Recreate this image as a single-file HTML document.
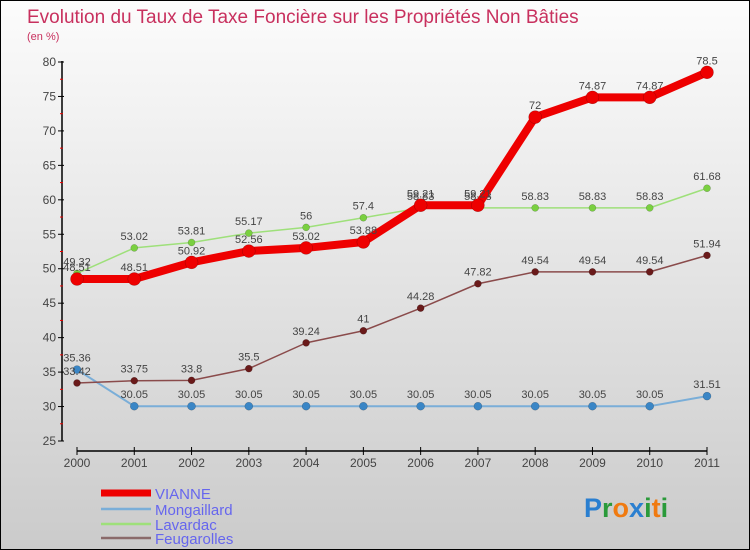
<!DOCTYPE html>
<html><head><meta charset="utf-8"><style>
body{margin:0;}
#c{width:750px;height:550px;position:relative;box-sizing:border-box;border:1px solid #000;background:linear-gradient(#fcfcfc,#cbcbcb);font-family:"Liberation Sans",sans-serif;overflow:hidden}
svg{position:absolute;left:0;top:0}
</style></head><body>
<div id="c">
<svg id="s" width="750" height="550">
<text x="26" y="22" font-size="19" fill="#c8305e">Evolution du Taux de Taxe Foncière sur les Propriétés Non Bâties</text>
<text x="26" y="39" font-size="11" fill="#c8305e">(en %)</text>
<text x="583" y="516" font-size="27" font-weight="bold"><tspan fill="#2a7fd0">P</tspan><tspan fill="#2a9a3a">r</tspan><tspan fill="#f07a10">o</tspan><tspan fill="#2a7fd0">x</tspan><tspan fill="#2a9a3a">i</tspan><tspan fill="#f07a10">t</tspan><tspan fill="#2a9a3a">i</tspan></text>
</svg>
</div>
<script>
const years=[2000,2001,2002,2003,2004,2005,2006,2007,2008,2009,2010,2011];
const vianne=[48.51,48.51,50.92,52.56,53.02,53.88,59.21,59.21,72,74.87,74.87,78.5];
const mongaillard=[35.36,30.05,30.05,30.05,30.05,30.05,30.05,30.05,30.05,30.05,30.05,31.51];
const lavardac=[49.32,53.02,53.81,55.17,56,57.4,58.83,58.83,58.83,58.83,58.83,61.68];
const feugarolles=[33.42,33.75,33.8,35.5,39.24,41,44.28,47.82,49.54,49.54,49.54,51.94];
const yTicks=[25,30,35,40,45,50,55,60,65,70,75,80];
const NS="http://www.w3.org/2000/svg",s=document.getElementById('s');
const X=i=>76+i*(630/11), Y=v=>440-(v-25)*(379/55);
function el(t,a,p){const e=document.createElementNS(NS,t);for(const k in a)e.setAttribute(k,a[k]);(p||s).appendChild(e);return e;}
let e;
e=el('line',{x1:61,y1:60,x2:61,y2:440,stroke:'#000','stroke-width':1.5});


e=el('line',{x1:76,y1:450,x2:706,y2:450,stroke:'#000','stroke-width':1.5});


yTicks.forEach((v,i)=>{
 el('line',{x1:57,y1:Y(v),x2:63,y2:Y(v),stroke:'#000'});
 if(i<yTicks.length-1)el('line',{x1:59,y1:Y(v+2.5),x2:62,y2:Y(v+2.5),stroke:'#e00'});
 e=el('text',{x:55,y:Y(v)+4,'font-size':12,fill:'#444','text-anchor':'end'});e.textContent=v;
 
 
});
years.forEach((y,i)=>{
 el('line',{x1:X(i),y1:446,x2:X(i),y2:454,stroke:'#000'});
 e=el('text',{x:X(i),y:466,'font-size':12,fill:'#444','text-anchor':'middle'});e.textContent=y;
 
 
});
function series(d,col,w,r,dot,name){
 e=el('polyline',{points:d.map((v,i)=>X(i)+','+Y(v)).join(' '),fill:'none',stroke:col,'stroke-width':w,'stroke-linejoin':'round'});
 
 
 d.forEach((v,i)=>{
  e=el('circle',{cx:X(i),cy:Y(v),r:r,fill:dot,stroke:'rgba(0,0,0,0.3)','stroke-width':0.5});
  
  
  e=el('text',{x:X(i),y:Y(v)-8,'font-size':11,fill:'#444','text-anchor':'middle'});e.textContent=v;
  
  
 });
}
series(mongaillard,'#7aaed8',2,4,'#3a86c6','mongaillard');
series(feugarolles,'#8a4b4b',1.5,3.5,'#6a1a1a','feugarolles');
series(lavardac,'#9ee07a',1.5,3.5,'#7ad040','lavardac');
series(vianne,'#ee0000',8,6.5,'#ee0000','vianne');
const leg=[['VIANNE','#ee0000',7],['Mongaillard','#7aaed8',2.5],['Lavardac','#9ee07a',2.5],['Feugarolles','#8a6a6a',2.5]];
const ly=[492,508,523,537];
leg.forEach((l,i)=>{
 e=el('line',{x1:100,y1:ly[i],x2:150,y2:ly[i],stroke:l[1],'stroke-width':l[2]});
 
 
 e=el('text',{x:154,y:ly[i]+6,'font-size':15,fill:'#6666ee'});e.textContent=l[0];
 
 
});
</script>
</body></html>
